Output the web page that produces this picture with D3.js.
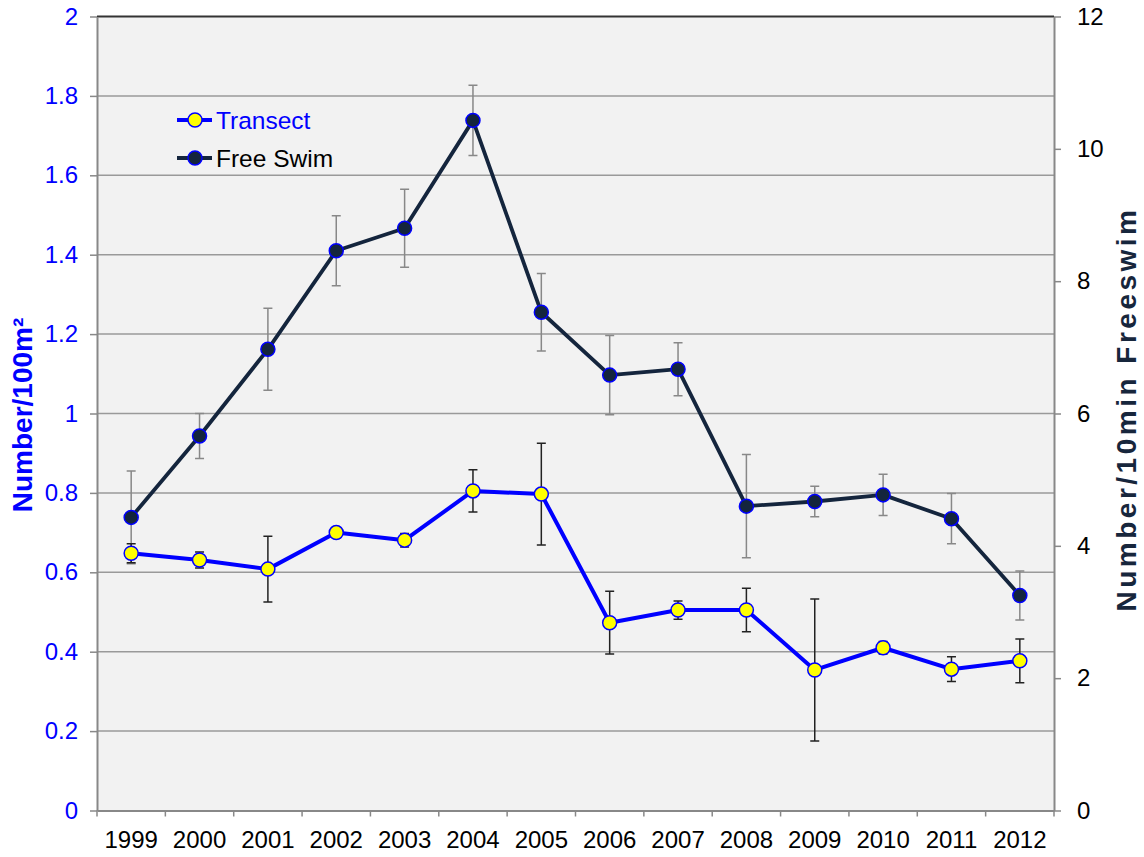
<!DOCTYPE html>
<html>
<head>
<meta charset="utf-8">
<script src="https://cdn.jsdelivr.net/npm/d3@7"></script>
<style>
  body { margin: 0; background: #fff; }
  svg text { font-family: "Liberation Sans", Arial, sans-serif; }
</style>
</head>
<body>
<svg id="chart" width="1144" height="857"></svg>
<script>
var years = ['1999', '2000', '2001', '2002', '2003', '2004', '2005',
             '2006', '2007', '2008', '2009', '2010', '2011', '2012'];
var transect = [0.648, 0.631, 0.608, 0.700, 0.681, 0.805, 0.797,
                0.473, 0.505, 0.505, 0.354, 0.410, 0.356, 0.377];
var transectErr = [0.024, 0.020, 0.083, 0.013, 0.017, 0.053, 0.128,
                   0.079, 0.023, 0.055, 0.179, 0.016, 0.031, 0.055];
var freeSwim = [4.43, 5.66, 6.97, 8.46, 8.80, 10.43, 7.53,
                6.58, 6.67, 4.60, 4.67, 4.77, 4.41, 3.25];
var freeSwimErr = [0.70, 0.34, 0.62, 0.53, 0.59, 0.53, 0.585,
                   0.60, 0.40, 0.78, 0.23, 0.31, 0.38, 0.37];
var leftTicks = [0, 0.2, 0.4, 0.6, 0.8, 1, 1.2, 1.4, 1.6, 1.8, 2];
var rightTicks = [0, 2, 4, 6, 8, 10, 12];

(function() {

  var margin = { top: 16.5, right: 90, bottom: 46.5, left: 97 };
  var width = 1144 - margin.left - margin.right,
      height = 857 - margin.top - margin.bottom;

  var svg = d3.select('#chart');
  var g = svg.append('g')
    .attr('transform', 'translate(' + margin.left + ',' + margin.top + ')');

  var x = d3.scaleBand().domain(years).range([0, width]).padding(0);
  var yLeft = d3.scaleLinear().domain([0, 2]).range([height, 0]);
  var yRight = d3.scaleLinear().domain([0, 12]).range([height, 0]);

  function cx(d, i) { return x(years[i]) + x.bandwidth() / 2; }

  // plot background + grid
  g.append('rect')
    .attr('width', width)
    .attr('height', height)
    .attr('fill', '#f2f2f2');

  g.selectAll('.grid')
    .data(leftTicks.filter(function(d) { return d > 0 && d < 2; }))
    .enter().append('line')
    .attr('x1', 0)
    .attr('x2', width)
    .attr('y1', function(d) { return yLeft(d); })
    .attr('y2', function(d) { return yLeft(d); })
    .attr('stroke', '#9a9a9a')
    .attr('stroke-width', 1.5);

  g.append('line')
    .attr('x1', 0).attr('x2', width)
    .attr('y1', yLeft(2)).attr('y2', yLeft(2))
    .attr('stroke', '#333')
    .attr('stroke-width', 2);

  // axes
  var leftAxis = g.append('g')
    .call(d3.axisLeft(yLeft)
      .tickValues(leftTicks)
      .tickFormat(function(d) { return d3.format('~g')(d); })
      .tickSize(7)
      .tickSizeOuter(0)
      .tickPadding(12));
  styleAxis(leftAxis, '#0000ff');

  var rightAxis = g.append('g')
    .attr('transform', 'translate(' + width + ',0)')
    .call(d3.axisRight(yRight)
      .tickValues(rightTicks)
      .tickSize(7)
      .tickSizeOuter(0)
      .tickPadding(16));
  styleAxis(rightAxis, '#000');

  var bottomAxis = g.append('g')
    .attr('transform', 'translate(0,' + height + ')')
    .call(d3.axisBottom(x).tickSize(0).tickPadding(20));
  styleAxis(bottomAxis, '#000');

  bottomAxis.selectAll('.bound')
    .data(years.concat(['end']))
    .enter().append('line')
    .attr('x1', function(d) { return d === 'end' ? width : x(d); })
    .attr('x2', function(d) { return d === 'end' ? width : x(d); })
    .attr('y1', 0)
    .attr('y2', 6)
    .attr('stroke', '#888')
    .attr('stroke-width', 1.5);

  // series
  drawSeries(freeSwim, freeSwimErr, yRight, '#888', '#14253d', '#14253d', 3.8);
  drawSeries(transect, transectErr, yLeft, '#222', '#0000ff', '#ffff00', 4);

  addLegend();
  addTitles();

  function styleAxis(sel, color) {
    sel.select('.domain')
      .attr('stroke', '#888')
      .attr('stroke-width', 2);
    sel.selectAll('.tick line')
      .attr('stroke', '#888')
      .attr('stroke-width', 1.5);
    sel.selectAll('.tick text')
      .attr('fill', color)
      .style('font-size', '24px')
      .style('font-family', '"Liberation Sans", Arial, sans-serif');
  }

  function drawSeries(values, errs, y, errColor, lineColor, fill, lw) {
    var s = g.append('g');

    s.selectAll('.err')
      .data(values)
      .enter().append('path')
      .attr('d', function(d, i) {
        var px = cx(d, i), top = y(d + errs[i]), bot = y(d - errs[i]);
        return 'M' + px + ',' + top + 'V' + bot +
               'M' + (px - 4.5) + ',' + top + 'h9' +
               'M' + (px - 4.5) + ',' + bot + 'h9';
      })
      .attr('fill', 'none')
      .attr('stroke', errColor)
      .attr('stroke-width', 1.5);

    var line = d3.line()
      .x(cx)
      .y(function(d) { return y(d); });

    s.append('path')
      .datum(values)
      .attr('d', line)
      .attr('fill', 'none')
      .attr('stroke', lineColor)
      .attr('stroke-width', lw)
      .attr('stroke-linejoin', 'round');

    s.selectAll('circle')
      .data(values)
      .enter().append('circle')
      .attr('cx', cx)
      .attr('cy', function(d) { return y(d); })
      .attr('r', 7)
      .attr('fill', fill)
      .attr('stroke', '#0000ff')
      .attr('stroke-width', 1.5);
  }

  function addLegend() {
    var items = [
      { name: 'Transect', line: '#0000ff', fill: '#ffff00', text: '#0000ff', y: 120 },
      { name: 'Free Swim', line: '#14253d', fill: '#14253d', text: '#000', y: 158 }
    ];
    var lg = svg.selectAll('.legend')
      .data(items)
      .enter().append('g')
      .attr('transform', function(d) { return 'translate(177,' + d.y + ')'; });

    lg.append('line')
      .attr('x1', 0).attr('x2', 35)
      .attr('stroke', function(d) { return d.line; })
      .attr('stroke-width', 4);
    lg.append('circle')
      .attr('cx', 18)
      .attr('r', 7)
      .attr('fill', function(d) { return d.fill; })
      .attr('stroke', '#0000ff')
      .attr('stroke-width', 1.5);
    lg.append('text')
      .attr('x', 39)
      .attr('dy', '0.36em')
      .attr('fill', function(d) { return d.text; })
      .style('font-size', '24.5px')
      .text(function(d) { return d.name; });
  }

  function addTitles() {
    svg.append('text')
      .attr('transform', 'translate(22,415) rotate(-90)')
      .attr('text-anchor', 'middle')
      .attr('dy', '0.36em')
      .attr('fill', '#0000ff')
      .style('font-size', '28px')
      .style('font-weight', 'bold')
      .text('Number/100m²');

    svg.append('text')
      .attr('transform', 'translate(1126,409) rotate(-90)')
      .attr('text-anchor', 'middle')
      .attr('dy', '0.36em')
      .attr('fill', '#17263c')
      .style('font-size', '28px')
      .style('font-weight', 'bold')
      .style('letter-spacing', '3.5px')
      .text('Number/10min Freeswim');
  }
})();
</script>
</body>
</html>
